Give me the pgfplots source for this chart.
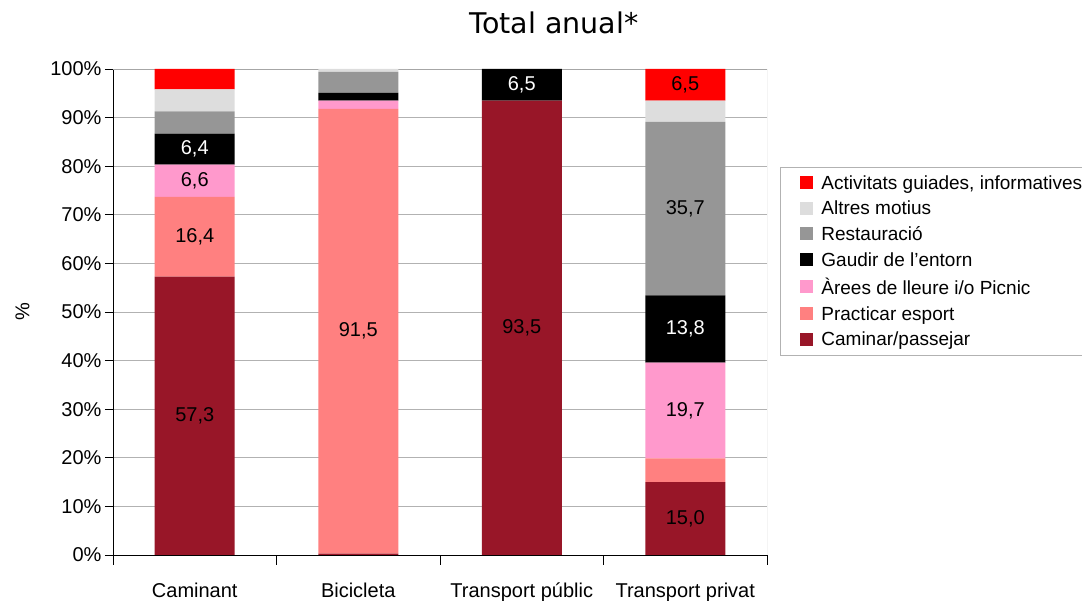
\documentclass[border=0pt]{standalone}
\usepackage{pgfplots}
\usepackage{pgfplotstable}
\pgfplotsset{compat=1.18}
\usepackage{fontspec}
\setmainfont{Liberation Sans}
\newfontfamily\titlefont{DejaVu Sans}
\definecolor{cCam}{RGB}{152,22,40}
\definecolor{cEsp}{RGB}{255,128,128}
\definecolor{cAre}{RGB}{255,153,204}
\definecolor{cGau}{RGB}{0,0,0}
\definecolor{cRes}{RGB}{150,150,150}
\definecolor{cAlt}{RGB}{221,221,221}
\definecolor{cAct}{RGB}{255,0,0}

\pgfplotstableread{
x y l
0 57.3 {57,3}
1 0.3 {}
2 93.5 {93,5}
3 15.0 {15,0}
}\tCam
\pgfplotstableread{
x y l
0 16.4 {16,4}
1 91.5 {91,5}
2 0 {}
3 4.9 {}
}\tEsp
\pgfplotstableread{
x y l
0 6.6 {6,6}
1 1.7 {}
2 0 {}
3 19.7 {19,7}
}\tAre
\pgfplotstableread{
x y l
0 6.4 {6,4}
1 1.6 {}
2 6.5 {6,5}
3 13.8 {13,8}
}\tGau
\pgfplotstableread{
x y l
0 4.6 {}
1 4.3 {}
2 0 {}
3 35.7 {35,7}
}\tRes
\pgfplotstableread{
x y l
0 4.5 {}
1 0.6 {}
2 0 {}
3 4.4 {}
}\tAlt
\pgfplotstableread{
x y l
0 4.2 {}
1 0 {}
2 0 {}
3 6.5 {6,5}
}\tAct

\begin{document}
\begin{tikzpicture}
\path[use as bounding box] (0pt,0pt) rectangle (1082pt,601pt);
\node[font=\titlefont\fontsize{28.5}{32}\selectfont] at (554pt,578pt) {Total anual*};
\begin{axis}[
  at={(113pt,46pt)}, anchor=south west,
  scale only axis, width=654pt, height=486pt,
  ybar stacked, bar width=80pt,
  xmin=-0.5, xmax=3.5, ymin=0, ymax=100,
  axis x line*=bottom, axis y line*=left,
  axis line style={black, line width=0.8pt},
  xtick={0,1,2,3},
  xticklabels={Caminant,Bicicleta,Transport públic,Transport privat},
  xtick style={draw=none},
  xticklabel style={font=\fontsize{20}{24}\selectfont, anchor=north, yshift=-16pt},
  extra x ticks={-0.5,0.5,1.5,2.5,3.5},
  extra x tick labels={},
  extra x tick style={xtick style={draw=black, line width=0.6pt}, major tick length=10pt, tick align=outside},
  ytick={0,10,...,100},
  yticklabel={\pgfmathprintnumber[assume math mode=true]{\tick}\%},
  yticklabel style={font=\fontsize{20}{24}\selectfont},
  ytick style={black, line width=0.6pt},
  major tick length=8pt, tick align=outside,
  ylabel={\%}, ylabel style={font=\fontsize{20}{24}\selectfont, yshift=14pt},
  ymajorgrids, grid style={gray!60, line width=0.8pt},
  point meta=explicit symbolic,
  nodes near coords,
  every node near coord/.append style={anchor=center, font=\fontsize{20}{24}\selectfont, text=black},
  legend style={at={(1.0199,0.798)}, anchor=north west, draw=gray!60, line width=0.8pt,
    font=\fontsize{19}{22}\selectfont, legend cell align=left, row sep=6.3pt, inner xsep=20pt, inner ysep=6pt},
  reverse legend,
  legend image code/.code={\fill[#1] (0pt,-6pt) rectangle (13pt,7pt); \path (19pt,0pt);},
]
\addplot[fill=cCam, draw=none] table[x=x,y=y,meta=l] {\tCam};
\addplot[fill=cEsp, draw=none] table[x=x,y=y,meta=l] {\tEsp};
\addplot[fill=cAre, draw=none] table[x=x,y=y,meta=l] {\tAre};
\addplot[fill=cGau, draw=none, every node near coord/.append style={text=white}] table[x=x,y=y,meta=l] {\tGau};
\addplot[fill=cRes, draw=none] table[x=x,y=y,meta=l] {\tRes};
\addplot[fill=cAlt, draw=none] table[x=x,y=y,meta=l] {\tAlt};
\addplot[fill=cAct, draw=none] table[x=x,y=y,meta=l] {\tAct};
\legend{Caminar/passejar,Practicar esport,Àrees de lleure i/o Picnic,Gaudir de l'entorn,Restauració,Altres motius,{Activitats guiades, informatives}}
\draw[gray!70, line width=0.8pt] (rel axis cs:0,1) -- (rel axis cs:1,1) -- (rel axis cs:1,0);
\end{axis}
\end{tikzpicture}
\end{document}
